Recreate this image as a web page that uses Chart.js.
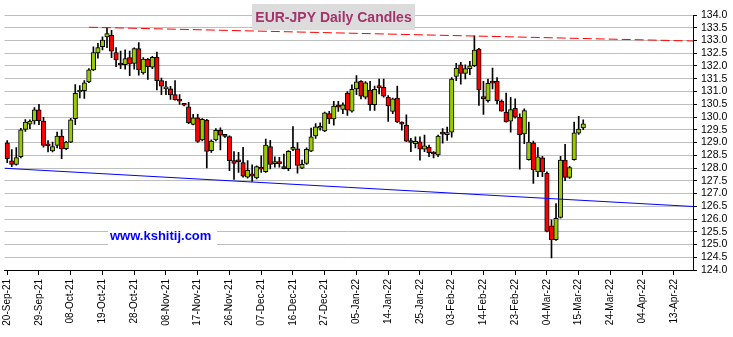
<!DOCTYPE html>
<html>
<head>
<meta charset="utf-8">
<title>EUR-JPY Daily Candles</title>
<script src="https://cdn.jsdelivr.net/npm/chart.js@4.4.1/dist/chart.umd.min.js"></script>
<style>
  html, body { margin: 0; padding: 0; background: #fff; }
  canvas { display: block; }
</style>
</head>
<body>
<canvas id="candles" width="733" height="337"></canvas>
<script>
// one label every 7 trading sessions, session 0 = 20-Sep-21
const tickLabels = ['20-Sep-21', '29-Sep-21', '08-Oct-21', '19-Oct-21', '28-Oct-21', '08-Nov-21',
  '17-Nov-21', '26-Nov-21', '07-Dec-21', '16-Dec-21', '27-Dec-21', '05-Jan-22', '14-Jan-22',
  '25-Jan-22', '03-Feb-22', '14-Feb-22', '23-Feb-22', '04-Mar-22', '15-Mar-22', '24-Mar-22',
  '04-Apr-22', '13-Apr-22'];

// daily OHLC, one entry per session
const opens = [
  128.99, 128.28, 128.14, 128.44, 129.51, 129.72, 129.85, 130.28, 129.84, 128.90,
  128.67, 128.89, 129.25, 128.76, 129.01, 129.93, 130.98, 131.03, 131.38, 131.85,
  132.51, 132.76, 133.14, 133.20, 132.53, 132.06, 132.05, 132.33, 132.10, 132.68,
  131.73, 132.26, 131.95, 132.34, 131.43, 131.10, 131.10, 130.88, 130.66, 130.49,
  130.40, 129.71, 129.97, 129.10, 129.88, 128.68, 129.10, 129.48, 129.26, 129.23,
  128.29, 128.26, 128.21, 127.64, 127.77, 127.61, 128.04, 127.86, 128.84, 128.17,
  128.25, 128.06, 127.97, 128.73, 128.75, 127.99, 128.18, 128.66, 129.26, 129.56,
  129.45, 130.13, 129.92, 130.47, 130.30, 130.94, 130.23, 131.10, 131.40, 130.78,
  131.06, 130.48, 131.17, 131.17, 130.78, 130.22, 130.74, 129.76, 129.68, 129.06,
  128.95, 129.03, 128.74, 128.81, 128.57, 128.51, 129.36, 129.31, 129.41, 131.59,
  132.05, 131.71, 131.90, 132.01, 132.66, 130.80, 130.64, 131.35, 131.40, 130.62,
  130.19, 129.84, 130.34, 129.99, 129.34, 128.33, 128.99, 127.85, 128.40, 127.79,
  125.73, 125.19, 126.06, 128.31, 127.63, 128.33, 129.37, 129.57];
const highs = [
  129.08, 128.72, 128.80, 129.56, 129.90, 129.89, 130.37, 130.50, 129.99, 129.08,
  129.02, 129.41, 129.50, 129.05, 129.95, 131.27, 131.23, 131.43, 131.90, 132.75,
  132.89, 133.14, 133.50, 133.40, 132.72, 132.59, 132.63, 132.59, 132.71, 132.92,
  132.33, 132.30, 132.38, 132.55, 131.53, 131.40, 131.20, 131.43, 130.88, 130.53,
  130.58, 130.10, 130.10, 129.94, 129.91, 129.10, 129.55, 129.58, 129.29, 129.26,
  128.64, 128.61, 128.81, 128.29, 128.12, 128.09, 128.48, 129.13, 129.09, 128.44,
  128.42, 128.55, 128.68, 129.62, 129.00, 128.31, 128.79, 129.57, 129.74, 129.77,
  130.19, 130.22, 130.61, 130.61, 130.56, 131.00, 131.26, 131.62, 131.43, 131.39,
  131.40, 131.21, 131.49, 131.49, 130.84, 130.74, 131.21, 129.81, 130.09, 129.16,
  129.22, 129.22, 129.29, 128.90, 128.64, 129.29, 129.55, 129.60, 131.55, 132.10,
  132.14, 132.05, 132.18, 133.18, 132.69, 131.40, 131.49, 131.92, 131.55, 130.67,
  130.94, 130.77, 130.71, 130.12, 130.32, 129.80, 129.06, 128.80, 128.46, 127.85,
  125.97, 126.60, 128.46, 128.93, 128.07, 129.80, 130.03, 129.89];
const lows = [
  128.21, 128.05, 128.11, 128.40, 129.43, 129.54, 129.72, 129.70, 128.82, 128.63,
  128.63, 128.79, 128.37, 128.72, 128.99, 129.70, 130.75, 130.73, 131.35, 131.82,
  132.31, 132.63, 132.72, 132.33, 131.97, 131.90, 131.88, 131.62, 131.88, 131.64,
  131.68, 131.47, 131.90, 131.06, 130.88, 130.88, 130.69, 130.66, 130.49, 130.43,
  129.74, 129.69, 129.00, 129.06, 128.00, 128.61, 129.06, 128.71, 129.20, 127.90,
  127.55, 127.83, 127.64, 127.60, 127.47, 127.57, 127.83, 127.83, 127.96, 128.03,
  128.03, 127.96, 127.90, 128.68, 127.80, 127.97, 128.14, 128.64, 129.16, 129.48,
  129.42, 129.74, 129.68, 130.22, 130.13, 130.06, 130.19, 130.88, 130.71, 130.71,
  130.26, 130.26, 130.91, 130.78, 129.83, 130.13, 129.78, 129.48, 129.03, 128.64,
  128.79, 128.31, 128.64, 128.44, 128.40, 128.44, 128.97, 129.08, 129.21, 131.42,
  131.29, 131.49, 131.66, 131.97, 130.45, 130.10, 130.58, 131.10, 130.51, 130.23,
  129.80, 129.41, 129.95, 127.95, 128.95, 128.31, 127.40, 127.66, 127.66, 125.49,
  124.47, 125.16, 126.03, 127.50, 127.59, 128.31, 129.32, 129.50];
const closes = [
  128.37, 128.14, 128.41, 129.50, 129.80, 129.84, 130.28, 129.86, 128.89, 128.87,
  128.84, 129.25, 128.75, 129.02, 129.89, 130.93, 131.00, 131.34, 131.85, 132.53,
  132.72, 133.02, 133.27, 132.58, 132.24, 132.04, 132.29, 132.08, 132.68, 131.85,
  132.27, 131.97, 132.34, 131.42, 131.21, 131.18, 130.87, 130.68, 130.62, 130.46,
  129.78, 129.97, 129.04, 129.91, 128.65, 129.06, 129.48, 129.29, 129.24, 128.29,
  128.18, 128.24, 127.68, 127.91, 127.68, 128.06, 127.95, 128.90, 128.14, 128.25,
  128.17, 127.97, 128.65, 128.81, 128.10, 128.14, 128.73, 129.22, 129.61, 129.59,
  130.16, 129.92, 130.43, 130.39, 130.48, 130.27, 131.09, 131.38, 130.82, 131.34,
  130.48, 131.09, 131.15, 130.82, 130.43, 130.71, 129.81, 129.72, 129.05, 129.00,
  129.05, 128.74, 128.87, 128.60, 128.55, 129.25, 129.33, 129.39, 131.49, 131.92,
  131.71, 131.90, 132.01, 132.62, 131.07, 130.71, 131.32, 131.33, 130.64, 130.23,
  129.82, 130.29, 129.99, 129.31, 130.25, 129.02, 127.92, 128.44, 127.85, 125.51,
  125.19, 126.03, 128.31, 127.63, 128.02, 129.38, 129.53, 129.73];

// trend lines, x given as session index
const resistanceX = [18, 151.2];
const resistanceY = [133.52, 132.98];
const supportX = [-0.6, 151.2];
const supportY = [127.99, 126.49];

const dayMin = -0.6, dayMax = 151.2;
const priceMin = 124, priceMax = 134;

const upColor = '#99cc00';
const downColor = '#ff0000';
const font = 'Arial, "Liberation Sans", sans-serif';

const bodies = opens.map((o, i) => ({ x: i, y: [o, closes[i]] }));
const wicks = lows.map((l, i) => ({ x: i, y: [l, highs[i]] }));
const bodyColors = opens.map((o, i) => closes[i] >= o ? upColor : downColor);
const toPoints = (xs, ys) => xs.map((x, i) => ({ x: x, y: ys[i] }));

// title box and site stamp, painted over the grid
const overlayText = {
  id: 'overlayText',
  afterDraw(chart) {
    const ctx = chart.ctx;
    ctx.save();
    ctx.fillStyle = '#dcdcdc';
    ctx.fillRect(252, 4, 163, 26);
    ctx.font = 'bold 14px ' + font;
    ctx.fillStyle = '#a3336a';
    ctx.textAlign = 'center';
    ctx.textBaseline = 'alphabetic';
    ctx.fillText('EUR-JPY Daily Candles', 333.5, 22);

    ctx.fillStyle = '#fff';
    ctx.fillRect(108, 223, 109, 26);
    ctx.font = 'bold 13px ' + font;
    ctx.fillStyle = '#0000ff';
    ctx.textAlign = 'left';
    ctx.fillText('www.kshitij.com', 110, 239.5);
    ctx.restore();
  }
};

new Chart(document.getElementById('candles'), {
  type: 'bar',
  data: {
    datasets: [
      {
        type: 'line',
        data: toPoints(resistanceX, resistanceY),
        borderColor: '#ff0000',
        borderWidth: 1,
        borderDash: [9, 4],
        pointRadius: 0,
        order: 0
      },
      {
        type: 'line',
        data: toPoints(supportX, supportY),
        borderColor: '#0000ff',
        borderWidth: 1,
        pointRadius: 0,
        order: 0
      },
      {
        data: bodies,
        backgroundColor: bodyColors,
        borderColor: '#000',
        borderWidth: 1,
        borderSkipped: false,
        barThickness: 4.5,
        minBarLength: 2,
        grouped: false,
        order: 1
      },
      {
        data: wicks,
        backgroundColor: '#000',
        barThickness: 1,
        grouped: false,
        order: 2
      }
    ]
  },
  options: {
    responsive: false,
    animation: false,
    events: [],
    layout: { padding: { left: 4.5, top: 15, right: 0, bottom: 0 } },
    plugins: {
      legend: { display: false },
      tooltip: { enabled: false }
    },
    scales: {
      x: {
        type: 'linear',
        min: dayMin,
        max: dayMax,
        offset: false,
        grid: { offset: false, drawOnChartArea: false, drawTicks: true, tickLength: 5, tickColor: '#000' },
        border: { color: '#000', width: 1 },
        ticks: {
          stepSize: 7,
          includeBounds: false,
          autoSkip: false,
          minRotation: 90,
          maxRotation: 90,
          padding: 4,
          color: '#000',
          font: { family: font, size: 10 },
          callback: v => tickLabels[Math.round(v / 7)] || ''
        },
        afterFit: s => { s.height = 67; s.paddingLeft = 0; s.paddingRight = 0; }
      },
      y: {
        type: 'linear',
        position: 'right',
        min: priceMin,
        max: priceMax,
        beginAtZero: false,
        grid: { color: '#bebebe', tickColor: '#000', tickLength: 4 },
        border: { color: '#000', width: 1 },
        ticks: {
          stepSize: 0.5,
          autoSkip: false,
          padding: 4,
          color: '#000',
          font: { family: font, size: 10.5 },
          callback: v => v.toFixed(1)
        },
        afterFit: s => { s.width = 40; s.paddingTop = 0; s.paddingBottom = 0; }
      }
    }
  },
  plugins: [overlayText]
});
</script>
</body>
</html>
